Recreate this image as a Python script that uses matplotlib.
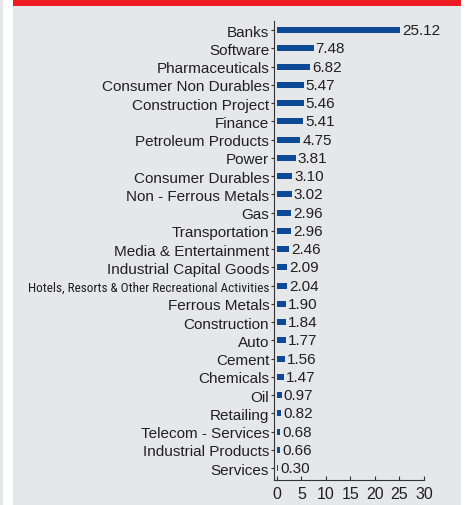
import matplotlib
matplotlib.use("Agg")
import matplotlib.pyplot as plt
from matplotlib.patches import Rectangle

sectors = ["Banks", "Software", "Pharmaceuticals", "Consumer Non Durables",
           "Construction Project", "Finance", "Petroleum Products", "Power",
           "Consumer Durables", "Non - Ferrous Metals", "Gas", "Transportation",
           "Media & Entertainment", "Industrial Capital Goods",
           "Hotels, Resorts & Other Recreational Activities", "Ferrous Metals",
           "Construction", "Auto", "Cement", "Chemicals", "Oil", "Retailing",
           "Telecom - Services", "Industrial Products", "Services"]
weights = [25.12, 7.48, 6.82, 5.47, 5.46, 5.41, 4.75, 3.81, 3.10, 3.02, 2.96,
           2.96, 2.46, 2.09, 2.04, 1.90, 1.84, 1.77, 1.56, 1.47, 0.97, 0.82,
           0.68, 0.66, 0.30]
xticks = [0, 5, 10, 15, 20, 25, 30]

W, H = 469, 506
panel = "#e6e7e9"
navy = "#0c4a96"
red = "#ed1c24"
fnt = ["Liberation Sans", "DejaVu Sans"]
narrow = ["Roboto Condensed", "Liberation Sans Narrow", "Liberation Sans"]

fig = plt.figure(figsize=(W / 100, H / 100), dpi=100, facecolor="white")

# page background: thin grey edge, white margin, grey panel
fig.patches.append(Rectangle((0, 0), 3 / W, 1, transform=fig.transFigure,
                             facecolor=panel, edgecolor="none", zorder=0))
fig.patches.append(Rectangle((13 / W, 0), 448 / W, 1, transform=fig.transFigure,
                             facecolor=panel, edgecolor="none", zorder=0))
fig.patches.append(Rectangle((13 / W, (H - 7) / H), 448 / W, 7 / H,
                             transform=fig.transFigure, facecolor=red,
                             edgecolor="none", zorder=1))

ax = fig.add_axes([274 / W, 25 / H, 150 / W, 459 / H])
ax.set_zorder(5)
ax.set_facecolor("none")
y = list(range(len(sectors)))
ax.barh(y, weights, height=0.34, color=navy, left=0)
for yi, v in zip(y, weights):
    ax.text(v + 0.4, yi, f"{v:.2f}", va="center", ha="left",
            fontsize=11, family=fnt, color="#231f20")

ax.set_yticks(y)
ax.set_yticklabels(sectors, family=fnt, fontsize=11, color="#231f20")
ax.set_xticks(xticks)
ax.set_xticklabels([str(t) for t in xticks], family=fnt, fontsize=11.5, color="#231f20")
ax.set_xlim(-0.6, 30)
ax.set_ylim(24.65, -0.5)
ax.tick_params(axis="y", length=2, width=0.8, pad=1.5, color="#333333")
ax.tick_params(axis="x", direction="in", length=3, width=0.8, pad=4, color="#333333")
for s in ["top", "right"]:
    ax.spines[s].set_visible(False)
ax.spines["left"].set_color("#333333")
ax.spines["bottom"].set_color("#333333")
ax.spines["bottom"].set_bounds(-0.6, 30)

# the long label needs a narrower face
for lab in ax.get_yticklabels():
    if lab.get_text().startswith("Hotels"):
        lab.set_family(narrow)
        lab.set_fontsize(9.5)

fig.savefig("out.png", dpi=100, facecolor="white")
